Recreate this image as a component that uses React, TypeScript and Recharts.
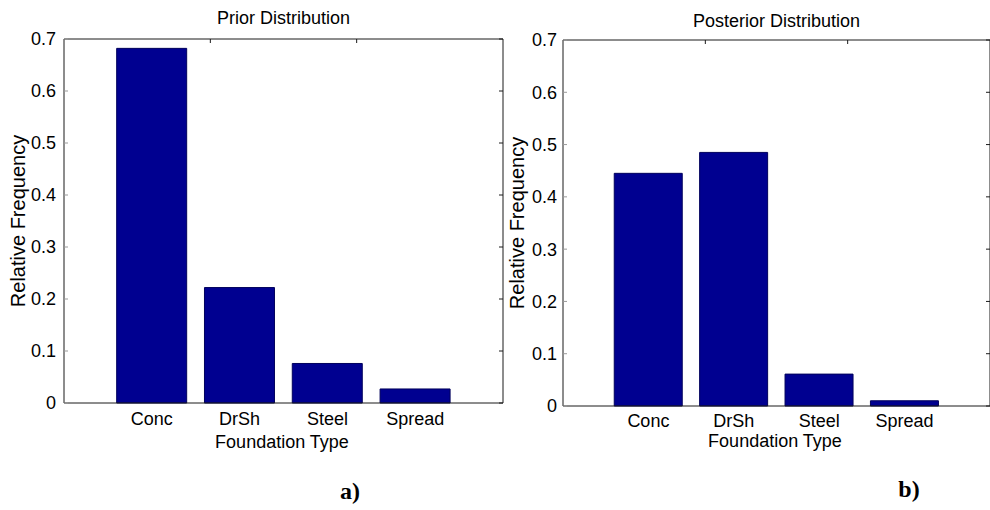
import React from 'react';
import { BarChart, Bar, XAxis, YAxis } from 'recharts';

// values
const categories = ['Conc', 'DrSh', 'Steel', 'Spread'];
const priorFreq = [0.682, 0.222, 0.076, 0.027];
const posteriorFreq = [0.445, 0.485, 0.061, 0.01];
const freqTicks = [0, 0.1, 0.2, 0.3, 0.4, 0.5, 0.6, 0.7];

const FONT = '"Liberation Sans", Arial, sans-serif';
const SERIF = '"Liberation Serif", "Times New Roman", serif';
const BAR_FILL = '#000090';
const BAR_EDGE = '#00005c';
const AXIS = '#1a1a1a';

// MATLAB puts bar i at x = i on a 0..N+1 axis; the top ticks follow that
const slotTicks = categories.map((_, i) => i + 1);
const slotDomain = [0, categories.length + 1];

const noLabel = () => '';

type PanelProps = {
  values: number[];
  plotX: number;
  plotY: number;
  plotW: number;
  plotH: number;
  yW: number;
  yGap: number;
  catGap: number;
};

// one boxed bar plot, ticks point inward on every side
const Panel = ({ values, plotX, plotY, plotW, plotH, yW, yGap, catGap }: PanelProps) => {
  const data = categories.map((name, i) => ({ name, freq: values[i] }));
  const pad = plotW / (categories.length + 1) / 2;
  const xh = 60;
  return (
    <div style={{ position: 'absolute', left: plotX - yW, top: 0 }}>
      <BarChart
        width={yW + plotW + 1}
        height={plotY + plotH + xh}
        data={data}
        margin={{ top: plotY, right: 1, bottom: 0, left: 0 }}
        barCategoryGap="10%"
      >
        <XAxis
          xAxisId="b"
          dataKey="name"
          height={xh}
          padding={{ left: pad, right: pad }}
          tickLine={false}
          tickSize={0}
          tickMargin={catGap}
          tick={{ fontSize: 18, fill: '#000', fontFamily: FONT }}
          stroke={AXIS}
        />
        <XAxis
          xAxisId="t"
          type="number"
          orientation="top"
          mirror
          height={1}
          domain={slotDomain}
          ticks={slotTicks}
          allowDataOverflow
          tickSize={4}
          tickFormatter={noLabel}
          stroke={AXIS}
        />
        <YAxis
          yAxisId="l"
          width={yW}
          domain={[0, 0.7]}
          ticks={freqTicks}
          tickLine={false}
          tickSize={0}
          tickMargin={yGap}
          tick={{ fontSize: 18, fill: '#000', fontFamily: FONT }}
          stroke={AXIS}
        />
        <YAxis
          yAxisId="lt"
          mirror
          width={1}
          domain={[0, 0.7]}
          ticks={freqTicks}
          allowDataOverflow
          axisLine={false}
          tickSize={4}
          tickFormatter={noLabel}
          stroke="#999"
        />
        <YAxis
          yAxisId="r"
          orientation="right"
          mirror
          width={1}
          domain={[0, 0.7]}
          ticks={freqTicks}
          allowDataOverflow
          tickSize={4}
          tickFormatter={noLabel}
          stroke={AXIS}
        />
        <Bar
          xAxisId="b"
          yAxisId="l"
          dataKey="freq"
          fill={BAR_FILL}
          stroke={BAR_EDGE}
          strokeWidth={1}
          isAnimationActive={false}
        />
      </BarChart>
    </div>
  );
};

const text = (extra: React.CSSProperties): React.CSSProperties => ({
  position: 'absolute',
  fontFamily: FONT,
  fontSize: 18,
  lineHeight: '18px',
  color: '#000',
  whiteSpace: 'nowrap',
  ...extra,
});

const App = () => {
  return (
    <div style={{ position: 'absolute', left: 0, top: 0, width: 990, height: 510, background: '#fff', overflow: 'hidden' }}>
      <Panel values={priorFreq} plotX={64} plotY={39} plotW={439} plotH={364} yW={64} yGap={8} catGap={9} />
      <Panel values={posteriorFreq} plotX={563} plotY={40} plotW={427} plotH={366} yW={66} yGap={6} catGap={8} />

      <div style={text({ left: 64, width: 439, top: 9, textAlign: 'center' })}>Prior Distribution</div>
      <div style={text({ left: 563, width: 427, top: 12, textAlign: 'center' })}>Posterior Distribution</div>

      <div style={text({ left: 182, width: 200, top: 433, textAlign: 'center' })}>Foundation Type</div>
      <div style={text({ left: 675, width: 200, top: 432, textAlign: 'center' })}>Foundation Type</div>

      <div style={text({ left: 18, top: 221, fontSize: 20, lineHeight: '20px', transform: 'translate(-50%, -50%) rotate(-90deg)' })}>
        Relative Frequency
      </div>
      <div style={text({ left: 517, top: 223, fontSize: 20, lineHeight: '20px', transform: 'translate(-50%, -50%) rotate(-90deg)' })}>
        Relative Frequency
      </div>

      <div style={text({ left: 300, width: 100, top: 479, fontFamily: SERIF, fontWeight: 'bold', fontSize: 24, lineHeight: '24px', textAlign: 'center' })}>a)</div>
      <div style={text({ left: 859, width: 100, top: 477, fontFamily: SERIF, fontWeight: 'bold', fontSize: 24, lineHeight: '24px', textAlign: 'center' })}>b)</div>
    </div>
  );
};

export default App;
